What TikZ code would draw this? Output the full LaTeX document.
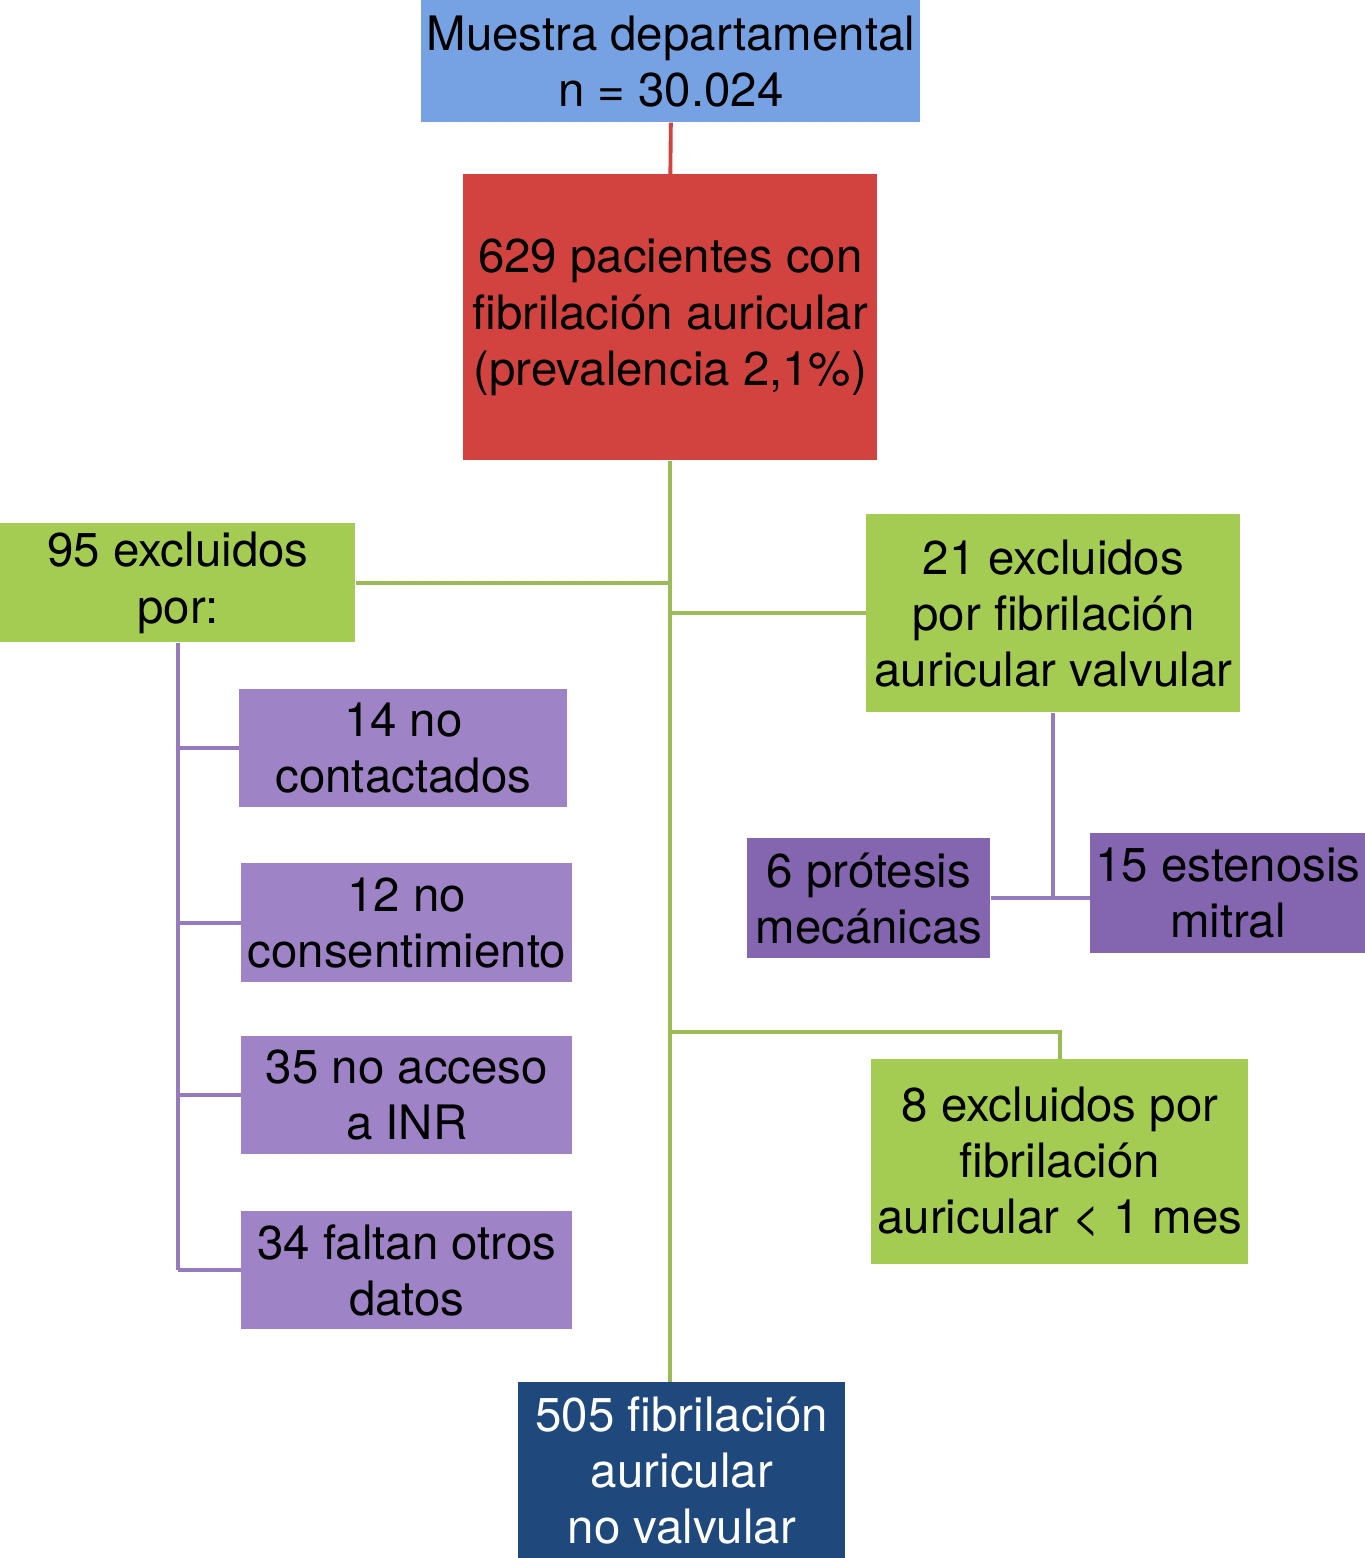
\documentclass[tikz,border=0pt]{standalone}
\usepackage{fontspec}
\setmainfont{TeX Gyre Heros}
\usepackage{tikz}
\definecolor{azulclaro}{RGB}{118,162,227}
\definecolor{rojo}{RGB}{210,67,64}
\definecolor{verde}{RGB}{165,204,82}
\definecolor{verdelinea}{RGB}{155,187,89}
\definecolor{lilaclaro}{RGB}{158,131,198}
\definecolor{lilaoscuro}{RGB}{132,102,176}
\definecolor{lilalinea}{RGB}{150,122,190}
\definecolor{azuloscuro}{RGB}{31,73,125}
\tikzset{
	caja/.style={anchor=north west, inner sep=0pt, align=center, font=\fontsize{27}{32}\selectfont},
	tam/.style 2 args={minimum width=#1*0.02cm, minimum height=#2*0.02cm},
	linearoja/.style={draw=rojo, line width=2.2pt},
	lineaverde/.style={draw=verdelinea, line width=2.2pt},
	linealila/.style={draw=lilalinea, line width=2.2pt}
}
\begin{document}
\begin{tikzpicture}[x=0.02cm, y=-0.02cm]
\useasboundingbox (0,0) rectangle (1365,1558);

\node[caja, tam={499}{122}, fill=azulclaro] (muestra) at (421,0) {Muestra departamental\\n = 30.024};
\node[caja, tam={414}{286}, fill=rojo] (pacientes) at (463,174) {629 pacientes con\\fibrilación auricular\\(prevalencia 2,1\%)};
\node[caja, tam={355}{119}, fill=verde] (excl95) at (0,523) {95 excluidos\\por:};
\node[caja, tam={374}{198}, fill=verde] (excl21) at (866,514) {21 excluidos\\por fibrilación\\auricular valvular};
\node[caja, tam={328}{118}, fill=lilaclaro] (nocont) at (239,689) {14 no\\contactados};
\node[caja, tam={331}{119}, fill=lilaclaro] (nocons) at (241,863) {12 no\\consentimiento};
\node[caja, tam={331}{118}, fill=lilaclaro] (noinr) at (241,1036) {35 no acceso\\a INR};
\node[caja, tam={331}{118}, fill=lilaclaro] (faltan) at (241,1211) {34 faltan otros\\datos};
\node[caja, tam={243}{120}, fill=lilaoscuro] (protesis) at (747,838) {6 prótesis\\mecánicas};
\node[caja, tam={275}{120}, fill=lilaoscuro] (estenosis) at (1090,833) {15 estenosis\\mitral};
\node[caja, tam={377}{205}, fill=verde] (excl8) at (871,1059) {8 excluidos por\\fibrilación\\auricular < 1 mes};
\node[caja, tam={327}{176}, fill=azuloscuro, text=white] (novalv) at (518,1382) {505 fibrilación\\auricular\\no valvular};
\coordinate (cruce8) at (670,1032);

\draw[linearoja] (muestra.south) -- (pacientes.north);
\draw[lineaverde] (pacientes.south) -- (pacientes.south |- novalv.north);
\draw[lineaverde] (excl95.east) -- (excl95.east -| pacientes.south);
\draw[lineaverde] (excl21.west) -- (excl21.west -| pacientes.south);
\draw[lineaverde] (cruce8 -| pacientes.south) -| (excl8.north);
\draw[linealila] (excl21.south) -- (excl21.south |- protesis.east);
\draw[linealila] (protesis.east) -- (protesis.east -| estenosis.west);
\draw[linealila] (excl95.south) -- (excl95.south |- faltan.west);
\foreach \n in {nocont,nocons,noinr,faltan}
	\draw[linealila] (excl95.south |- \n.west) -- (\n.west);
\end{tikzpicture}
\end{document}
